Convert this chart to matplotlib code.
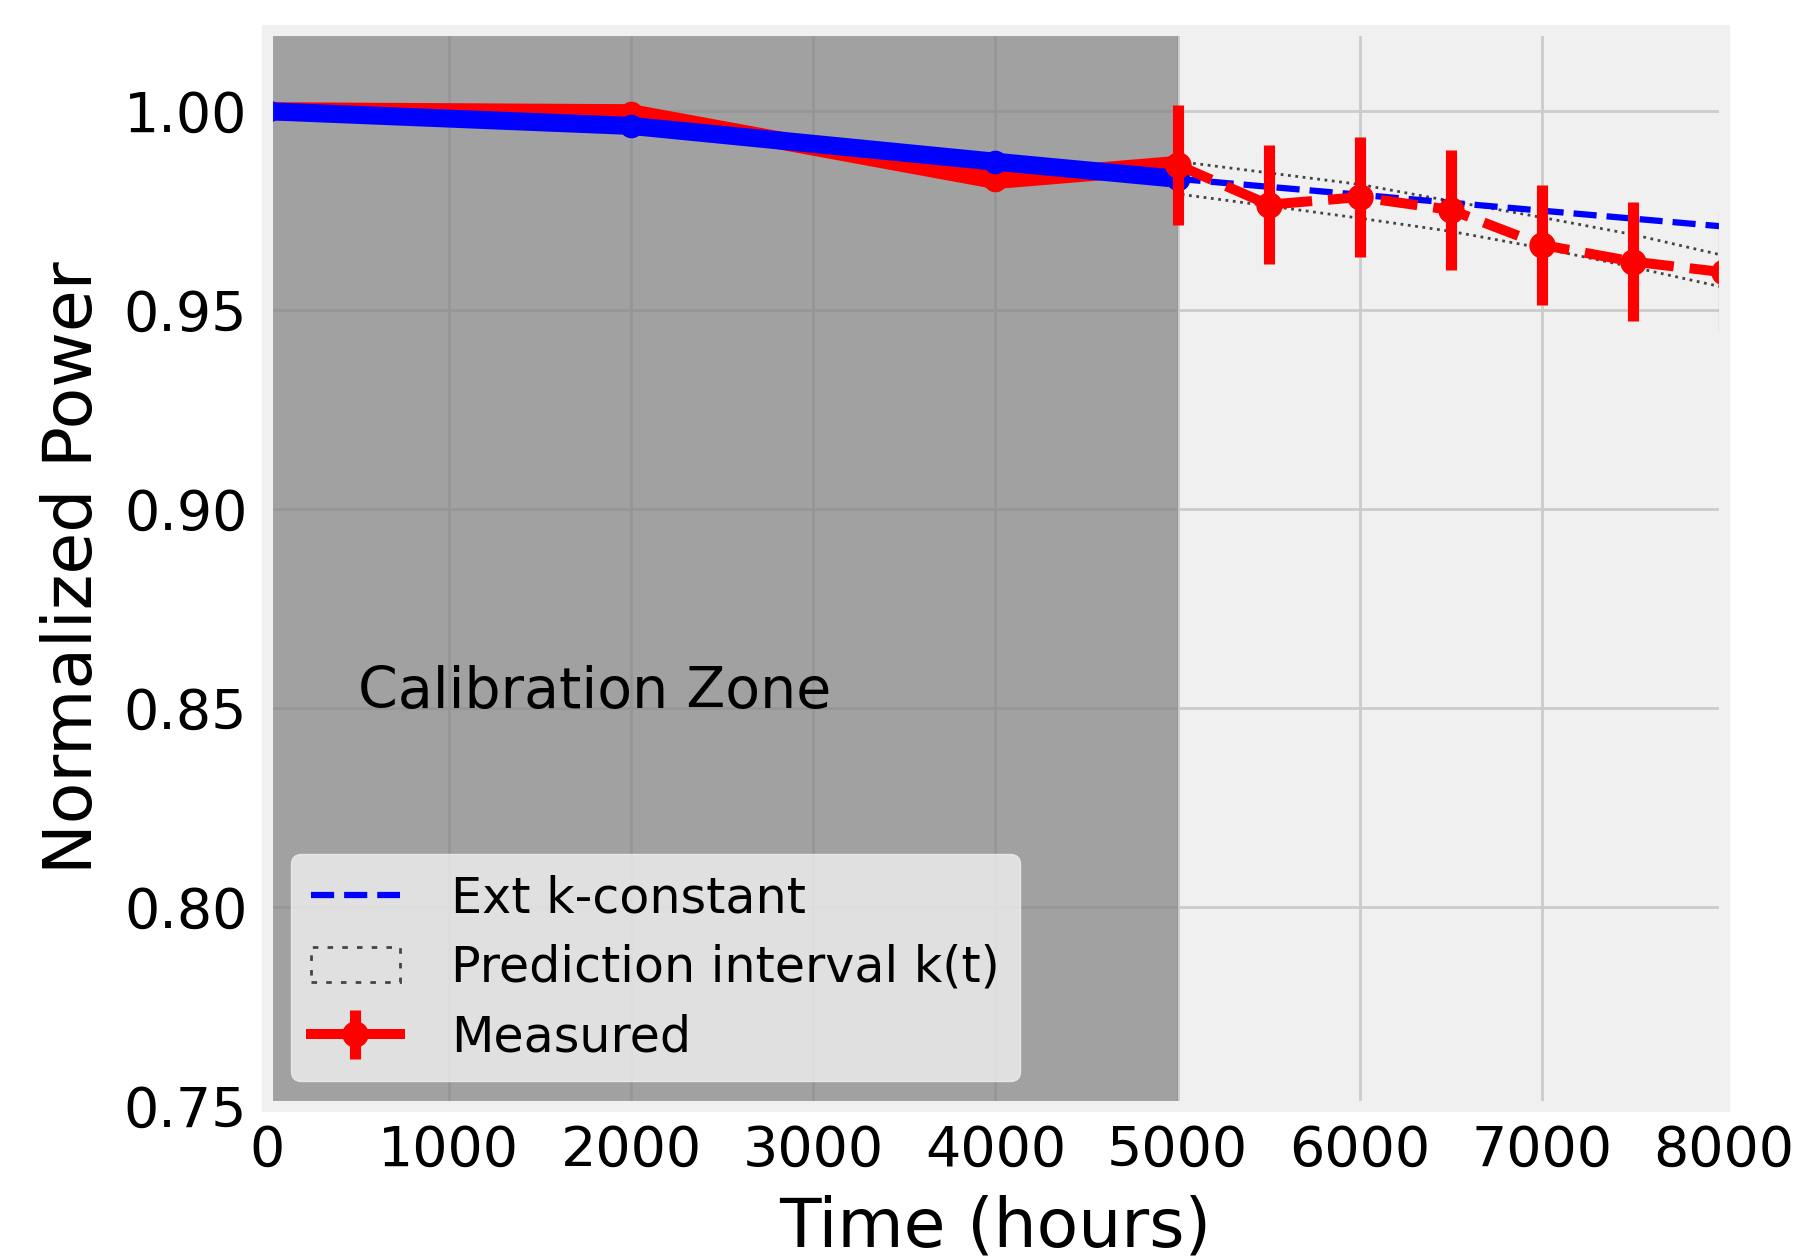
import matplotlib
matplotlib.use('Agg')
import matplotlib.pyplot as plt
from matplotlib.lines import Line2D
from matplotlib.colors import same_color

# calibration period (hours) and normalised power
t_cal = [0, 2000, 4000, 5000]
p_meas_cal = [1.000, 0.9995, 0.9827, 0.9865]
p_kconst_cal = [1.000, 0.9963, 0.9873, 0.9830]

# extrapolation with a constant k
t_ext = [5000, 8000]
p_ext = [0.9830, 0.9710]

# prediction interval for k(t)
t_pi = [5000, 5500, 6000, 6500, 7000, 7500, 8000]
pi_upper = [0.9874, 0.9845, 0.9816, 0.9774, 0.9733, 0.9690, 0.9637]
pi_lower = [0.9792, 0.9762, 0.9731, 0.9698, 0.9656, 0.9608, 0.9557]

# measured after calibration
t_meas = [5000, 5500, 6000, 6500, 7000, 7500, 8000]
p_meas = [0.9865, 0.9765, 0.9784, 0.9752, 0.9664, 0.9622, 0.9595]
p_err = [0.015, 0.015, 0.015, 0.015, 0.015, 0.015, 0.015]

x_ticks = [0, 1000, 2000, 3000, 4000, 5000, 6000, 7000, 8000]
y_ticks = [0.75, 0.80, 0.85, 0.90, 0.95, 1.00]


fig = plt.figure(figsize=(18, 12.57), dpi=100, facecolor='white')
ax = fig.add_axes([0.1482, 0.1204, 0.8096, 0.8560])
ax.set_facecolor('#f0f0f0')
for spine in ax.spines.values():
    spine.set_color('#f0f0f0')
    spine.set_linewidth(8)

ax.grid(True, color='#cbcbcb', linewidth=2)
ax.set_axisbelow(True)

ax.axvspan(0, 5000, color='gray', alpha=0.7, linewidth=0)

ax.plot(t_cal, p_meas_cal, '-o', color='r', linewidth=13, markersize=16)
ax.plot(t_cal, p_kconst_cal, '-o', color='b', linewidth=13, markersize=16)
ax.plot(t_ext, p_ext, '--', color='b', linewidth=4.5, label='Ext k-constant')
ax.fill_between(t_pi, pi_lower, pi_upper, facecolor='none', edgecolor='#444444',
                linestyle=':', linewidth=2, label='Prediction interval k(t)')
ax.errorbar(t_meas, p_meas, yerr=p_err, fmt='--o', color='r', linewidth=7.2,
            elinewidth=8, markersize=18, label='Measured')

ax.text(500, 0.85, 'Calibration Zone', fontsize=41, va='baseline')

ax.set_xlim(0, 8000)
ax.set_ylim(0.75, 1.0205)
ax.set_xticks(x_ticks)
ax.set_yticks(y_ticks)
ax.set_yticklabels(['%.2f' % v for v in y_ticks])
ax.tick_params(axis='both', length=0, labelsize=40)
ax.tick_params(axis='x', pad=13)
ax.tick_params(axis='y', pad=14)

ax.set_xlabel('Time (hours)', fontsize=49, labelpad=12)
ax.set_ylabel('Normalized Power', fontsize=49, labelpad=13)

leg = ax.legend(loc='lower left', fontsize=35.4, labelspacing=0.44, borderpad=0.4,
                handlelength=1.8, handletextpad=1.05, framealpha=0.8,
                facecolor='#f0f0f0', edgecolor='#f0f0f0', fancybox=True)
# legend shows the measured line solid
for ln in leg.findobj(Line2D):
    if ln.get_linestyle() == '--' and same_color(ln.get_color(), 'r'):
        ln.set_linestyle('-')

fig.savefig('out.png', dpi=100, facecolor='white')
